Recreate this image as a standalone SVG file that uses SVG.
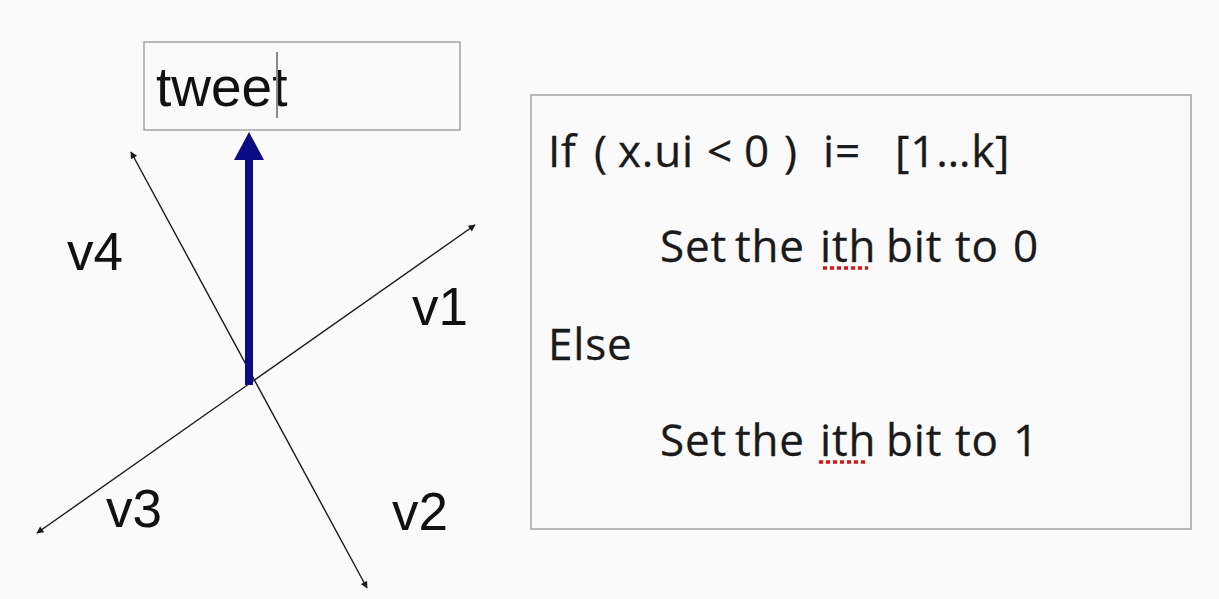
<svg xmlns="http://www.w3.org/2000/svg" width="1219" height="599" viewBox="0 0 1219 599">
<style>
.box{fill:none;stroke:#a8a8a8;stroke-width:1.6}
.axis{stroke:#1a1a1a;stroke-width:1.4;fill:none;marker-start:url(#ah);marker-end:url(#ah)}
.lbl{font-family:"Liberation Sans",Arial,sans-serif;font-size:53px;fill:#111}
.code{font-family:"Open Sans","DejaVu Sans",sans-serif;font-size:44px;letter-spacing:0.8px;fill:#1a1a1a;stroke:#1a1a1a;stroke-width:0.3}
.spell{stroke:#e01010;stroke-width:3.5;stroke-dasharray:4 3}
</style>
<defs>
<marker id="ah" viewBox="0 0 10 10" refX="9" refY="5" markerWidth="8" markerHeight="7" markerUnits="userSpaceOnUse" orient="auto-start-reverse">
<path d="M0,0 L10,5 L0,10 z" fill="#1a1a1a"/>
</marker>
</defs>
<rect x="0" y="0" width="1219" height="599" fill="#fafafa"/>
<g id="connectors">
<line class="axis" x1="37" y1="533" x2="475" y2="225"/>
<line class="axis" x1="131" y1="152" x2="367" y2="588"/>
<g id="tweet-vector">
<rect x="245" y="158" width="8" height="227" fill="#0b0b85"/>
<path d="M249,132 L264,160 L234,160 z" fill="#0b0b85"/>
</g>
</g>
<g id="tweet">
<rect class="box" x="144" y="42" width="316" height="88"/>
<text class="lbl" x="156" y="106" style="font-size:55px">tweet</text>
<line x1="277" y1="52" x2="277" y2="118" stroke="#8a8a8a" stroke-width="2"/>
</g>
<g id="v1"><text class="lbl" x="412" y="325">v1</text></g>
<g id="v2"><text class="lbl" x="392" y="530">v2</text></g>
<g id="v3"><text class="lbl" x="106" y="527">v3</text></g>
<g id="v4"><text class="lbl" x="67" y="270">v4</text></g>
<g id="rule">
<rect class="box" x="531" y="95" width="660" height="434"/>
<text class="code" y="167"><tspan x="548">If</tspan><tspan x="594">(</tspan><tspan x="618">x.ui</tspan><tspan x="707">&lt;</tspan><tspan x="744">0</tspan><tspan x="784">)</tspan><tspan x="823">i=</tspan><tspan x="895">[1…k]</tspan></text>
<text class="code" y="262"><tspan x="660">Set</tspan><tspan x="735">the</tspan><tspan x="820">ith</tspan><tspan x="886">bit</tspan><tspan x="955">to</tspan><tspan x="1013">0</tspan></text>
<line class="spell" x1="823" y1="268" x2="868" y2="268"/>
<text class="code" y="360"><tspan x="548">Else</tspan></text>
<text class="code" y="456"><tspan x="660">Set</tspan><tspan x="735">the</tspan><tspan x="820">ith</tspan><tspan x="886">bit</tspan><tspan x="955">to</tspan><tspan x="1013">1</tspan></text>
<line class="spell" x1="819" y1="462" x2="868" y2="462"/>
</g>
</svg>
